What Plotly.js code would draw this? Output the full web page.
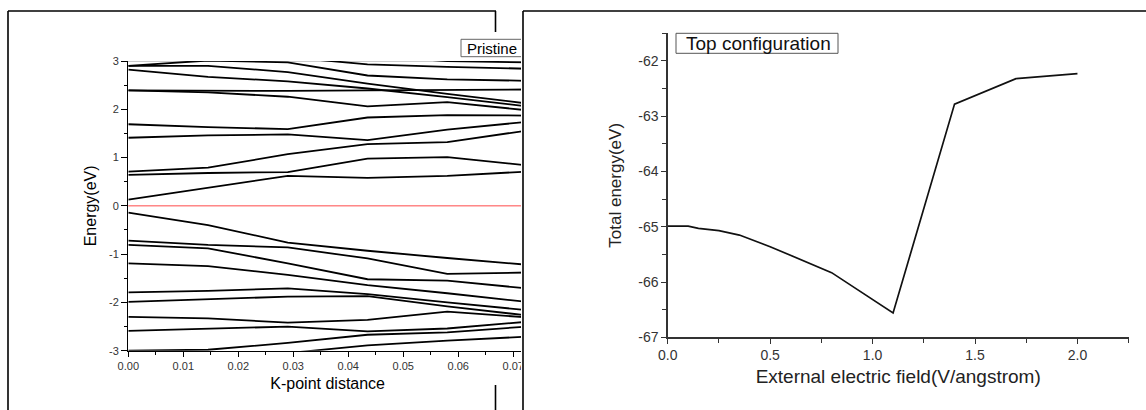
<!DOCTYPE html>
<html>
<head>
<meta charset="utf-8">
<script src="https://cdn.plot.ly/plotly-3.0.1.min.js"></script>
<style>
html,body{margin:0;padding:0;background:#fff;}
#chart{width:1146px;height:410px;}
</style>
</head>
<body>
<div id="chart"></div>
<script>
// ---------- Left panel: band structure (Pristine) ----------
const kDistance = [0, 0.0145, 0.029, 0.0435, 0.058, 0.0725];
const fermiLevel = 0;

// conduction bands (eV)
const bandC1  = [0.13, 0.38, 0.62, 0.58, 0.62, 0.71];
const bandC2  = [0.64, 0.68, 0.70, 0.98, 1.01, 0.84];
const bandC3  = [0.71, 0.79, 1.07, 1.28, 1.32, 1.56];
const bandC4  = [1.41, 1.46, 1.48, 1.36, 1.58, 1.74];
const bandC5  = [1.69, 1.63, 1.59, 1.83, 1.88, 1.87];
const bandC6  = [2.39, 2.35, 2.26, 2.06, 2.15, 1.98];
const bandC7  = [2.39, 2.38, 2.38, 2.39, 2.40, 2.41];
const bandC8  = [2.82, 2.67, 2.58, 2.43, 2.25, 2.06];
const bandC9  = [2.90, 2.90, 2.77, 2.53, 2.32, 2.12];
const bandC10 = [2.90, 3.01, 2.97, 2.70, 2.62, 2.59];
const bandC11 = [3.30, 3.20, 3.08, 2.93, 2.88, 2.84];
const bandC12 = [3.50, 3.40, 3.25, 3.10, 3.00, 2.97];

// valence bands (eV)
const bandV1  = [-0.14, -0.40, -0.76, -0.93, -1.08, -1.22];
const bandV2  = [-0.72, -0.81, -0.86, -1.09, -1.41, -1.38];
const bandV3  = [-0.81, -0.88, -1.19, -1.52, -1.55, -1.71];
const bandV4  = [-1.19, -1.25, -1.43, -1.64, -1.81, -1.99];
const bandV5  = [-1.79, -1.76, -1.71, -1.83, -2.00, -2.16];
const bandV6  = [-1.99, -1.93, -1.88, -1.87, -2.08, -2.27];
const bandV7  = [-2.30, -2.33, -2.42, -2.36, -2.19, -2.31];
const bandV8  = [-2.59, -2.55, -2.50, -2.60, -2.54, -2.40];
const bandV9  = [-3.00, -2.98, -2.84, -2.67, -2.62, -2.50];
const bandV10 = [-3.30, -3.20, -3.05, -2.89, -2.79, -2.71];

const leftYTickVals = [-3, -2, -1, 0, 1, 2, 3];
const leftYTickText = ['-3', '-2', '-1', '0', '1', '2', '3'];

// ---------- Right panel: total energy vs field ----------
const electricField = [0, 0.1, 0.15, 0.25, 0.35, 0.5, 0.8, 1.1, 1.4, 1.7, 2.0];
const totalEnergy   = [-64.99, -64.99, -65.03, -65.07, -65.15, -65.36, -65.83, -66.56, -62.78, -62.32, -62.23];

const rightYTickVals = [-67, -66, -65, -64, -63, -62];
const rightYTickText = ['-67', '-66', '-65', '-64', '-63', '-62'];

const leftTitleX = 'K-point distance';
const leftTitleY = 'Energy(eV)';
const rightTitleX = 'External electric field(V/angstrom)';
const rightTitleY = 'Total energy(eV)';
const leftLabel = 'Pristine';
const rightLabel = 'Top configuration';

// ---------- build ----------
const W = 1146, H = 410;
const px = x => x / W;
const py = y => 1 - y / H;
const FONT = 'Liberation Sans, Arial, Helvetica, sans-serif';

const bands = [bandC1, bandC2, bandC3, bandC4, bandC5, bandC6, bandC7, bandC8, bandC9, bandC10, bandC11, bandC12,
               bandV1, bandV2, bandV3, bandV4, bandV5, bandV6, bandV7, bandV8, bandV9, bandV10];

const traces = bands.map(b => ({
  type: 'scatter', mode: 'lines', x: kDistance, y: b,
  xaxis: 'x', yaxis: 'y',
  line: {color: '#000', width: 1.8}, hoverinfo: 'skip'
}));
traces.push({
  type: 'scatter', mode: 'lines', x: electricField, y: totalEnergy,
  xaxis: 'x2', yaxis: 'y2',
  line: {color: '#111', width: 1.7}, hoverinfo: 'skip'
});

const axBase = {
  showgrid: false, zeroline: false, showline: true, linecolor: '#000', linewidth: 1.3,
  ticks: 'outside', tickcolor: '#000', tickwidth: 1, fixedrange: true
};

const layout = {
  width: W, height: H,
  margin: {l: 0, r: 0, t: 0, b: 0},
  paper_bgcolor: '#fff', plot_bgcolor: 'rgba(0,0,0,0)',
  showlegend: false,
  font: {family: FONT, color: '#222'},
  xaxis: Object.assign({}, axBase, {
    domain: [px(128.3), px(527)], range: [0, 0.0725], anchor: 'y',
    tick0: 0, dtick: 0.01, tickformat: '.2f', ticklen: 5,
    tickfont: {size: 11, color: '#333', family: FONT},
    minor: {dtick: 0.005, ticks: 'outside', ticklen: 3, tickcolor: '#000', showgrid: false},
    title: {text: leftTitleX, font: {size: 16, color: '#000', family: FONT}, standoff: 6}
  }),
  yaxis: Object.assign({}, axBase, {
    domain: [py(350.7), py(61)], range: [-3, 3], anchor: 'x',
    tickmode: 'array', tickvals: leftYTickVals, ticktext: leftYTickText, ticklen: 6,
    tickfont: {size: 11, color: '#333', family: FONT},
    minor: {dtick: 0.5, ticks: 'outside', ticklen: 3, tickcolor: '#000', showgrid: false},
    title: {text: leftTitleY, font: {size: 16, color: '#000', family: FONT}, standoff: 8}
  }),
  xaxis2: Object.assign({}, axBase, {
    domain: [px(667.7), px(1128.7)], range: [0, 2.2501], anchor: 'y2',
    linecolor: '#333', tickcolor: '#333',
    tick0: 0, dtick: 0.5, tickformat: '.1f', ticklen: 5,
    tickfont: {size: 14, color: '#333', family: FONT},
    minor: {dtick: 0.25, ticks: 'outside', ticklen: 4, tickcolor: '#333', showgrid: false},
    title: {text: rightTitleX, font: {size: 19, color: '#222', family: FONT}, standoff: 7}
  }),
  yaxis2: Object.assign({}, axBase, {
    domain: [py(337.3), py(33.3)], range: [-67, -61.499], anchor: 'x2',
    linecolor: '#333', tickcolor: '#333',
    tickmode: 'array', tickvals: rightYTickVals, ticktext: rightYTickText, ticklen: 5,
    tickfont: {size: 14, color: '#333', family: FONT},
    minor: {dtick: 0.5, ticks: 'outside', ticklen: 4, tickcolor: '#333', showgrid: false},
    title: {text: rightTitleY, font: {size: 17, color: '#222', family: FONT}, standoff: 12}
  }),
  shapes: [
    // top edge of band plot
    {type: 'line', xref: 'paper', yref: 'y', x0: px(122), x1: px(527), y0: 3, y1: 3,
     line: {color: '#999', width: 1}, layer: 'below'},
    // Fermi level
    {type: 'line', xref: 'x domain', yref: 'y', x0: 0, x1: 1, y0: fermiLevel, y1: fermiLevel,
     line: {color: '#ff4a4a', width: 1}, layer: 'below'},
    // Pristine box
    {type: 'rect', xref: 'paper', yref: 'paper', x0: px(461), x1: px(540), y0: py(56.7), y1: py(39.3),
     line: {color: '#666', width: 1}, fillcolor: '#fff', layer: 'above'},
    // right panel white sheet edge (covers overflow of left panel)
    {type: 'rect', xref: 'paper', yref: 'paper', x0: px(521), x1: px(580), y0: 0, y1: 1,
     line: {width: 0}, fillcolor: '#fff', layer: 'above'},
    // left frame
    {type: 'line', xref: 'paper', yref: 'paper', x0: px(8), x1: px(496), y0: py(11), y1: py(11), line: {color: '#000', width: 1.6}, layer: 'above'},
    {type: 'line', xref: 'paper', yref: 'paper', x0: px(8), x1: px(8), y0: py(11), y1: 0, line: {color: '#000', width: 1.6}, layer: 'above'},
    {type: 'line', xref: 'paper', yref: 'paper', x0: px(495.5), x1: px(495.5), y0: py(11), y1: py(32), line: {color: '#000', width: 1.6}, layer: 'above'},
    {type: 'line', xref: 'paper', yref: 'paper', x0: px(495.5), x1: px(495.5), y0: py(385), y1: 0, line: {color: '#000', width: 1.6}, layer: 'above'},
    // right frame
    {type: 'line', xref: 'paper', yref: 'paper', x0: px(523), x1: 1, y0: py(11), y1: py(11), line: {color: '#000', width: 1.6}, layer: 'above'},
    {type: 'line', xref: 'paper', yref: 'paper', x0: px(523), x1: px(523), y0: py(11), y1: 0, line: {color: '#000', width: 1.6}, layer: 'above'},
    // Top configuration box
    {type: 'rect', xref: 'paper', yref: 'paper', x0: px(676), x1: px(838), y0: py(53.3), y1: py(33.3),
     line: {color: '#555', width: 1}, fillcolor: 'rgba(0,0,0,0)', layer: 'above'}
  ],
  annotations: [
    {text: leftLabel, xref: 'paper', yref: 'paper', x: px(465), y: py(48), xanchor: 'left', yanchor: 'middle',
     showarrow: false, font: {size: 15, color: '#000', family: FONT}},
    {text: rightLabel, xref: 'paper', yref: 'paper', x: px(684), y: py(43.5), xanchor: 'left', yanchor: 'middle',
     showarrow: false, font: {size: 19, color: '#111', family: FONT}}
  ]
};

Plotly.newPlot('chart', traces, layout, {displayModeBar: false, staticPlot: true});
</script>
</body>
</html>
